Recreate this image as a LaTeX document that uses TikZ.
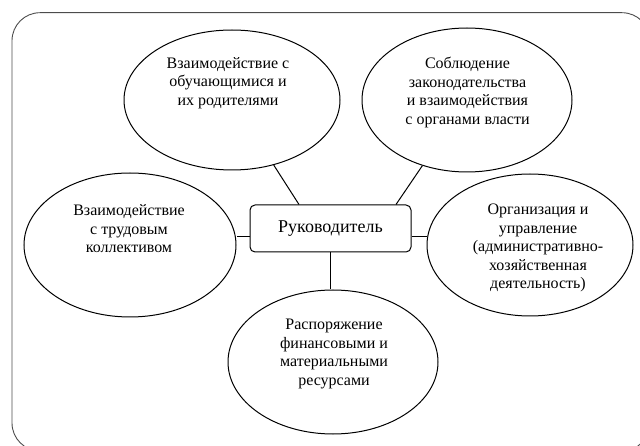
\documentclass[tikz,border=0pt]{standalone}
\usepackage{fontspec}
\setmainfont{Liberation Serif}
\newfontfamily\timesx{Liberation Serif}
\usetikzlibrary{shapes.geometric}
\begin{document}
\begin{tikzpicture}[x=1pt,y=-1pt,
  bubble/.style={draw=black, line width=1pt, ellipse, inner sep=0pt},
  lbl/.style={align=center, font=\timesx\fontsize{16}{18.5}\selectfont, inner sep=0pt},
  hub/.style={draw=black, line width=1pt, rounded corners=5pt, inner sep=0pt,
    minimum width=161pt, minimum height=47pt, font=\timesx\fontsize{18}{20}\selectfont},
  link/.style={draw=black, line width=1pt},
  frame/.style={draw=black!70, line width=0.9pt, rounded corners=28pt}]
\useasboundingbox (0,0) rectangle (640,446);
\draw[frame] (12,12.7) rectangle (650,451);

\node[bubble, minimum width=216pt, minimum height=140pt] (tl) at (232,100) {};
\node[bubble, minimum width=210pt, minimum height=144pt] (tr) at (467,100) {};
\node[bubble, minimum width=212pt, minimum height=144pt] (l) at (130,245) {};
\node[bubble, minimum width=206pt, minimum height=142pt] (r) at (530,245) {};
\node[bubble, minimum width=210pt, minimum height=144pt] (b) at (333,362) {};

\node[hub] (c) at (330.5,228.5) {Руководитель};

\node[lbl] (tlt) at (228,83) {Взаимодействие с\\обучающимися и\\их родителями};
\node[lbl] (trt) at (467.5,92.5) {Соблюдение\\законодательства\\и взаимодействия\\с органами власти};
\node[lbl] (lt) at (129,229) {Взаимодействие\\с трудовым\\коллективом};
\node[lbl] (rt) at (538,248) {Организация и\\управление\\(административно-\\хозяйственная\\деятельность)};
\node[lbl] (bt) at (334,354) {Распоряжение\\финансовыми и\\материальными\\ресурсами};

\draw[link] (c.north -| 299,0) -- (tl);
\draw[link] (c.north -| 396,0) -- (tr);
\draw[link] (c.west |- 0,237) -- (l.east |- 0,237);
\draw[link] (c.east |- 0,237) -- (r.west |- 0,237);
\draw[link] (c.south -| 330.6,0) -- (b.north -| 330.6,0);
\end{tikzpicture}
\end{document}
